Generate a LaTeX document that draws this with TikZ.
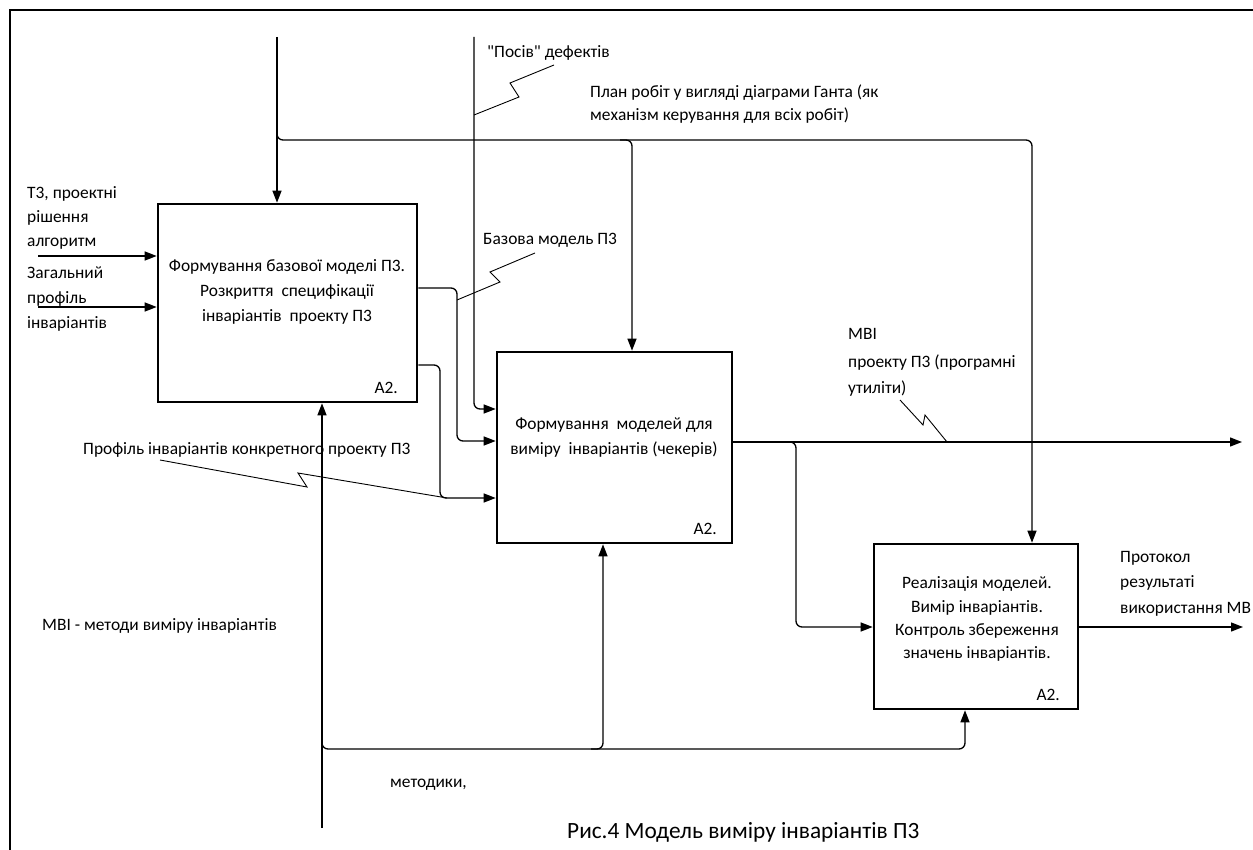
\documentclass[tikz,border=0pt]{standalone}
\usepackage{fontspec}
\setmainfont{Carlito}[Ligatures=TeXOff]
\usetikzlibrary{arrows.meta,calc}
\begin{document}
\begin{tikzpicture}[x=1pt,y=-1pt,
  boxs/.style={draw,line width=2.6pt,inner sep=0pt,rectangle},
  conn/.style={line width=1.3pt,rounded corners=6pt},
  arr/.style={conn,-{Triangle[length=12pt,width=9pt]}},
  squig/.style={line width=0.9pt},
  lbl/.style={anchor=base west,inner sep=0pt,font=\fontsize{17.4}{20}\selectfont},
  btxt/.style={anchor=base,inner sep=0pt,font=\fontsize{17.4}{20}\selectfont},
  aid/.style={anchor=base east,inner sep=0pt,font=\fontsize{17.4}{20}\selectfont}]
\useasboundingbox (0,0) rectangle (1253,850);
% frame
\draw[line width=2.6pt] (10,850) -- (10,10) -- (1253,10);
% boxes
\node[boxs,minimum width=259pt,minimum height=198pt] (b1) at (287.5,303) {};
\node[boxs,minimum width=235pt,minimum height=191pt] (b2) at (614.5,447.5) {};
\node[boxs,minimum width=204pt,minimum height=165pt] (b3) at (976,626.5) {};
% box texts
\node[btxt] (b1l1) at (287,272) {Формування базової моделі П3.};
\node[btxt] (b1l2) at (287,297) {Розкриття~ специфікації};
\node[btxt] (b1l3) at (287,322) {інваріантів~ проекту П3};
\node[aid] (b1id) at (398,393) {А2.};
\node[btxt] (b2l1) at (614,429) {Формування~ моделей для};
\node[btxt] (b2l2) at (614,454) {виміру~ інваріантів (чекерів)};
\node[aid] (b2id) at (717,534) {А2.};
\node[btxt] (b3l1) at (977,588) {Реалізація моделей.};
\node[btxt] (b3l2) at (977,612) {Вимір інваріантів.};
\node[btxt] (b3l3) at (977,635) {Контроль збереження};
\node[btxt] (b3l4) at (977,658) {значень інваріантів.};
\node[aid] (b3id) at (1060,700) {А2.};
% coordinates
\coordinate (t0) at (277,37);
\coordinate (j1) at (277,140);
\coordinate (k2) at (632,140);
\coordinate (k3) at (1032,140);
\coordinate (p0) at (474,37);
\coordinate (p1) at (474,409);
\coordinate (o1) at (457,288);
\coordinate (o1b) at (457,441);
\coordinate (o2) at (440,365);
\coordinate (o2b) at (440,498);
\coordinate (i1) at (38,256);
\coordinate (i2) at (38,307);
\coordinate (e1) at (1242,442);
\coordinate (br) at (796,442);
\coordinate (brb) at (796,627);
\coordinate (e2) at (1243,627);
\coordinate (m0) at (322,828);
\coordinate (mj) at (322,749);
\coordinate (m2) at (603,749);
\coordinate (m3) at (965,749);
% connectors
\draw[arr] (t0) -- (t0 |- b1.north);
\draw[arr] ($(j1)+(0,-12)$) -- (j1) -- (k3) -- (k3 |- b3.north);
\draw[arr] ($(k2)+(-12,0)$) -- (k2) -- (k2 |- b2.north);
\draw[arr] (p0) -- (p1) -- (p1 -| b2.west);
\draw[arr] (b1.east |- o1) -- (o1) -- (o1b) -- (o1b -| b2.west);
\draw[arr] (b1.east |- o2) -- (o2) -- (o2b) -- (o2b -| b2.west);
\draw[arr] (i1) -- (i1 -| b1.west);
\draw[arr] (i2) -- (i2 -| b1.west);
\draw[arr] (b2.east |- e1) -- (e1);
\draw[arr] ($(br)+(-12,0)$) -- (br) -- (brb) -- (brb -| b3.west);
\draw[arr] (b3.east |- e2) -- (e2);
\draw[arr] (m0) -- (m0 |- b1.south);
\draw[arr] ($(mj)+(0,-12)$) -- (mj) -- (m3) -- (m3 |- b3.south);
\draw[arr] ($(m2)+(-12,0)$) -- (m2) -- (m2 |- b2.south);
% squiggles
\draw[squig] (554,65) -- (510,83) -- (519,97) -- (474,115);
\draw[squig] (535,253) -- (490,272) -- (500,282) -- (457,300);
\draw[squig] (160,460) -- (307,487) -- (298,473) -- (447,498);
\draw[squig] (900,400) -- (923,425) -- (925,415) -- (947,442);
% labels
\node[lbl] (tz1) at (27,199) {Т3, проектні};
\node[lbl] (tz2) at (27,223) {рішення};
\node[lbl] (tz3) at (27,247) {алгоритм};
\node[lbl] (gp1) at (27,279) {Загальний};
\node[lbl] (gp2) at (27,304) {профіль};
\node[lbl] (gp3) at (27,328) {інваріантів};
\node[lbl] (pos) at (487,58) {"Посів" дефектів};
\node[lbl] (pl1) at (590,98) {План робіт у вигляді діаграми Ганта (як};
\node[lbl] (pl2) at (590,121) {механізм керування для всіх робіт)};
\node[lbl] (baz) at (483,245) {Базова модель П3};
\node[lbl] (mv1) at (848,340) {МВІ};
\node[lbl] (mv2) at (848,367) {проекту П3 (програмні};
\node[lbl] (mv3) at (848,393) {утиліти)};
\node[lbl] (prof) at (83,454) {Профіль інваріантів конкретного проекту П3};
\node[lbl] (mvi) at (42,630) {МВІ - методи виміру інваріантів};
\node[lbl] (met) at (390,787) {методики,};
\node[lbl] (pr1) at (1120,562) {Протокол};
\node[lbl] (pr2) at (1120,587) {результаті};
\node[lbl] (pr3) at (1120,613) {використання МВ};
\node[lbl,font=\fontsize{23.3}{27}\selectfont] (cap) at (567,838) {Рис.4 Модель виміру інваріантів П3};
\end{tikzpicture}
\end{document}
